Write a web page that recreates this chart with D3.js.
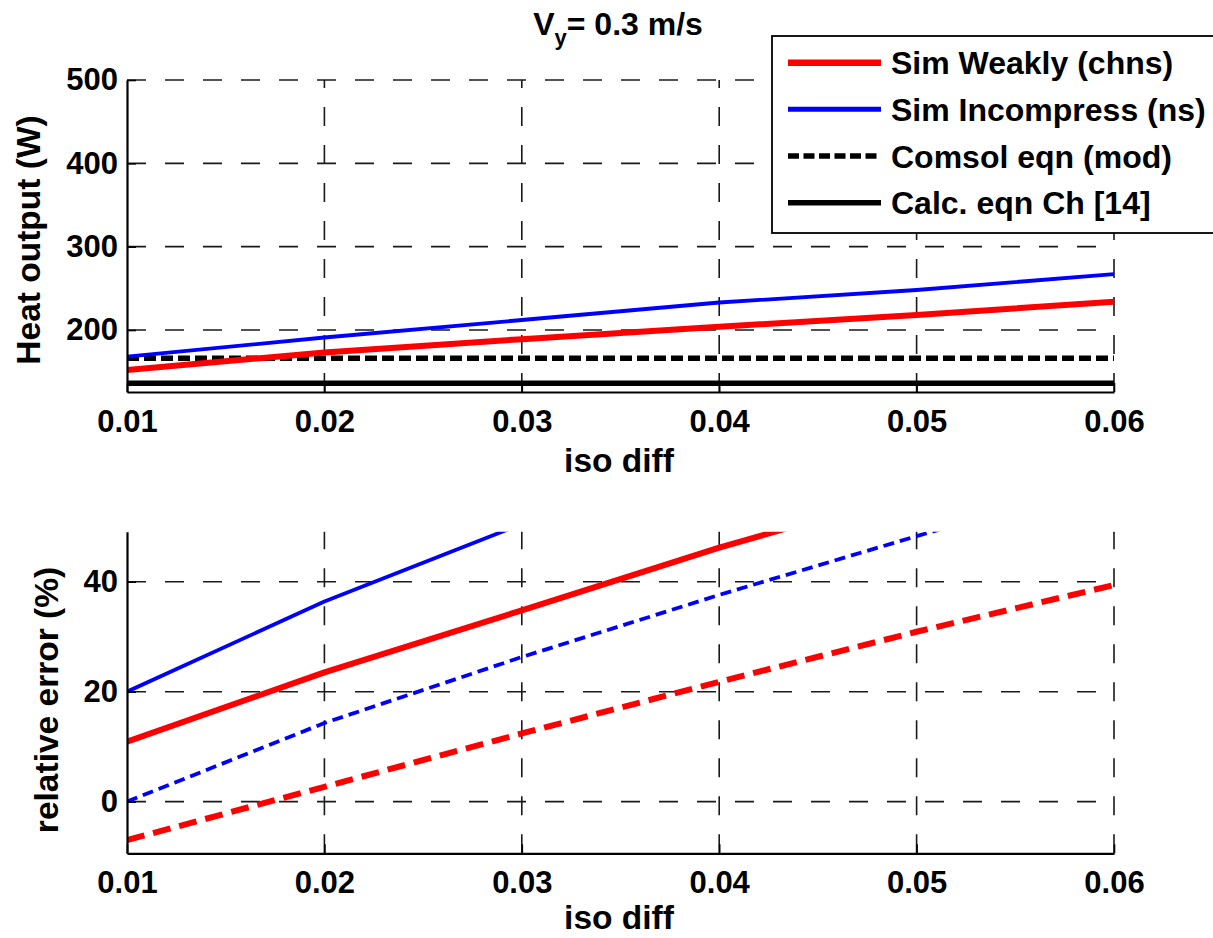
<!DOCTYPE html>
<html>
<head>
<meta charset="utf-8">
<script src="https://cdn.jsdelivr.net/npm/d3@7"></script>
<style>
  html, body { margin: 0; padding: 0; background: #fff; }
  svg { display: block; font-family: "Liberation Sans", Arial, Helvetica, sans-serif; }
</style>
</head>
<body>
<script>
// ---------------- data ----------------
const isoDiff = [0.01, 0.02, 0.03, 0.04, 0.05, 0.06];
const xTickLabels = ["0.01", "0.02", "0.03", "0.04", "0.05", "0.06"];

// Top panel: heat output (W)
const heatWeakly    = [152, 173, 189, 204, 218, 234];
const heatIncomp    = [168, 191, 212, 233, 248, 267];
const heatComsol    = [166, 166, 166, 166, 166, 166];
const heatCalc      = [136, 136, 136, 136, 136, 136];
const topYTicks     = [200, 300, 400, 500];

// Bottom panel: relative error (%), null = above the visible range
const errWeaklyCalc   = [10.9, 23.5, 34.8, 46.2, 56.5, null];
const errIncompCalc   = [20.0, 36.4, 50.5, null, null, null];
const errIncompComsol = [0.0, 14.3, 26.3, 37.6, 48.3, 58.5];
const errWeaklyComsol = [-7.0, 2.7, 12.4, 21.8, 30.9, 39.4];
const botYTicks       = [0, 20, 40];

const legendLabels = ["Sim Weakly (chns)", "Sim Incompress (ns)", "Comsol eqn (mod)", "Calc. eqn Ch [14]"];

// ---------------- layout ----------------
const W = 1213, H = 938;
const FONT = 31, LFONT = 33.5;
const svg = d3.select("body").append("svg").attr("width", W).attr("height", H);

const x = d3.scaleLinear().domain([0.01, 0.06]).range([127, 1114]);
const yTop = d3.scaleLinear().domain([125.6, 500]).range([392, 80]);
const yBot = d3.scaleLinear().domain([-9.4, 49.1]).range([853.3, 531.7]);

const RED = "#ff0000", BLUE = "#0000ff", BLACK = "#000";

function panel(id, y, yTicks, series, yLabel, yLabelX, yLabelCY, xLabelY) {
  const g = svg.append("g");
  const [y0, y1] = y.range(); // bottom, top
  const [x0, x1] = x.range();

  g.append("clipPath").attr("id", id).append("rect")
    .attr("x", x0).attr("y", y1).attr("width", x1 - x0).attr("height", y0 - y1);

  // grid
  const grid = g.append("g").attr("stroke", "#1a1a1a").attr("stroke-width", 1.6)
    .attr("stroke-dasharray", "19,19").attr("fill", "none");
  yTicks.forEach(v => {
    grid.append("line").attr("x1", x0).attr("x2", x1).attr("y1", y(v)).attr("y2", y(v));
  });
  isoDiff.slice(1).forEach(v => {
    grid.append("line").attr("x1", x(v)).attr("x2", x(v)).attr("y1", y0).attr("y2", y1);
  });

  // data lines
  const lines = g.append("g").attr("clip-path", `url(#${id})`);
  series.forEach(s => {
    const line = d3.line()
      .defined(d => d[1] !== null)
      .x(d => x(d[0])).y(d => y(d[1]));
    lines.append("path")
      .datum(isoDiff.map((v, i) => [v, s.values[i]]))
      .attr("d", line)
      .attr("fill", "none")
      .attr("stroke", s.color)
      .attr("stroke-width", s.width)
      .attr("stroke-dasharray", s.dash || null)
      .attr("stroke-linejoin", "round");
  });

  // axes
  const ax = g.append("g").attr("transform", `translate(0,${y0})`)
    .call(d3.axisBottom(x).tickValues(isoDiff).tickFormat((d, i) => xTickLabels[i])
      .tickSizeInner(-9).tickSizeOuter(0).tickPadding(18));
  const ay = g.append("g").attr("transform", `translate(${x0},0)`)
    .call(d3.axisLeft(y).tickValues(yTicks).tickFormat(d3.format("d"))
      .tickSizeInner(-9).tickSizeOuter(0).tickPadding(9));
  [ax, ay].forEach(a => {
    a.select(".domain").attr("stroke", "#000").attr("stroke-width", 2.2);
    a.selectAll(".tick line").attr("stroke", "#000").attr("stroke-width", 1.6);
    a.selectAll(".tick text").attr("fill", "#000").attr("font-size", FONT)
      .attr("font-weight", "bold").attr("font-family", "'Liberation Sans', Arial, sans-serif");
  });
  ax.selectAll(".tick text").attr("dy", "0.71em");

  // labels
  g.append("text").attr("x", 619).attr("y", xLabelY).attr("text-anchor", "middle")
    .attr("font-size", LFONT).attr("font-weight", "bold").text("iso diff");
  g.append("text")
    .attr("transform", `translate(${yLabelX},${yLabelCY}) rotate(-90)`)
    .attr("text-anchor", "middle").attr("font-size", LFONT).attr("font-weight", "bold")
    .text(yLabel);
}

panel("clipTop", yTop, topYTicks, [
  { values: heatComsol, color: BLACK, width: 5.5, dash: "12,5" },
  { values: heatCalc,   color: BLACK, width: 5.5 },
  { values: heatWeakly, color: RED,   width: 6 },
  { values: heatIncomp, color: BLUE,  width: 3.8 }
], "Heat output (W)", 40, 240, 472);

panel("clipBot", yBot, botYTicks, [
  { values: errWeaklyComsol, color: RED,  width: 6,   dash: "18,9" },
  { values: errIncompComsol, color: BLUE, width: 3.8, dash: "11,6" },
  { values: errWeaklyCalc,   color: RED,  width: 6 },
  { values: errIncompCalc,   color: BLUE, width: 3.8 }
], "relative error (%)", 58, 700, 929);

// title
const title = svg.append("text").attr("x", 618).attr("y", 35).attr("text-anchor", "middle")
  .attr("font-size", 32).attr("font-weight", "bold");
title.append("tspan").text("V");
title.append("tspan").attr("font-size", 22).attr("dy", 10).text("y");
title.append("tspan").attr("dy", -10).text("= 0.3 m/s");

// legend
const lg = svg.append("g");
lg.append("rect").attr("x", 772).attr("y", 36).attr("width", 450).attr("height", 197)
  .attr("fill", "#fff").attr("stroke", "#000").attr("stroke-width", 1.8);
const legendStyles = [
  { color: RED,   width: 6.5 },
  { color: BLUE,  width: 5 },
  { color: BLACK, width: 5.5, dash: "11,4.5" },
  { color: BLACK, width: 5.5 }
];
const legendY = d3.scalePoint().domain(d3.range(legendLabels.length)).range([62.7, 202.7]);
legendLabels.forEach((lab, i) => {
  const yy = legendY(i), st = legendStyles[i];
  lg.append("line").attr("x1", 788).attr("x2", 881).attr("y1", yy).attr("y2", yy)
    .attr("stroke", st.color).attr("stroke-width", st.width)
    .attr("stroke-dasharray", st.dash || null);
  lg.append("text").attr("x", 891).attr("y", yy).attr("dy", "0.36em")
    .attr("font-size", 32).attr("font-weight", "bold").text(lab);
});
</script>
</body>
</html>
